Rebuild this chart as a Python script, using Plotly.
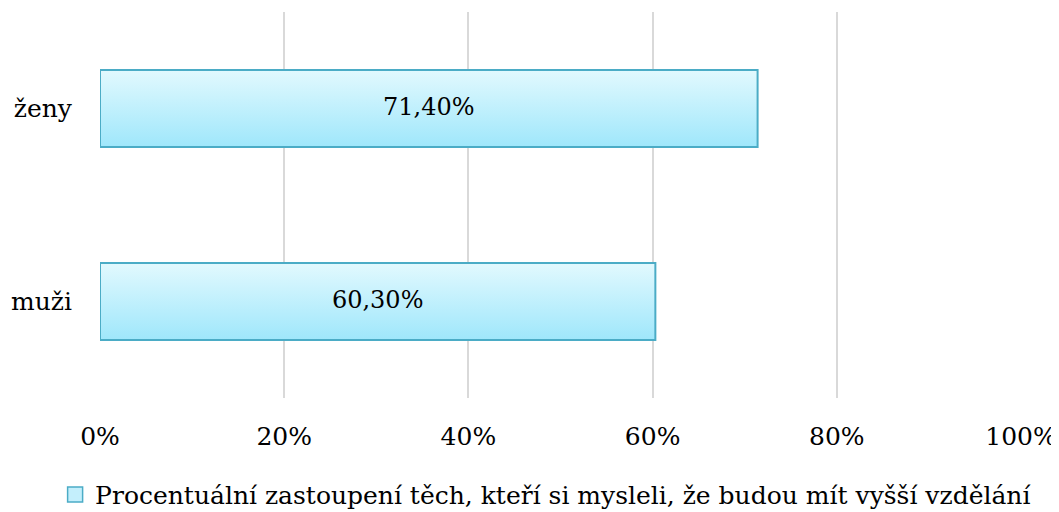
import plotly.graph_objects as go

categories = ["muži", "ženy"]
values = [60.3, 71.4]
value_labels = ["60,30%", "71,40%"]
series_name = "Procentuální zastoupení těch, kteří si mysleli, že budou mít vyšší vzdělání"
x_ticks = [0, 20, 40, 60, 80, 100]
x_tick_labels = ["0%", "20%", "40%", "60%", "80%", "100%"]

FONT = "DejaVu Serif"
half = 0.2

fig = go.Figure()
for i, (cat, v) in enumerate(zip(categories, values)):
    fig.add_trace(go.Scatter(
        x=[0, v, v, 0, 0],
        y=[i - half, i - half, i + half, i + half, i - half],
        mode="lines",
        fill="toself",
        fillgradient=dict(type="vertical",
                          colorscale=[[0, "#9fe7fb"], [1, "#e2f9fe"]]),
        line=dict(color="#4bacc6", width=2),
        showlegend=False,
        hoverinfo="skip",
    ))

fig.add_trace(go.Scatter(
    x=[v / 2 for v in values],
    y=list(range(len(categories))),
    mode="text",
    text=value_labels,
    textfont=dict(family=FONT, size=24, color="#000000"),
    showlegend=False,
    hoverinfo="skip",
))

fig.add_trace(go.Scatter(
    x=[None], y=[None], mode="markers",
    marker=dict(symbol="square", size=15, color="#c4effc",
                line=dict(color="#4bacc6", width=1.5)),
    name=series_name, showlegend=True,
))

fig.update_layout(
    width=1051, height=504,
    margin=dict(l=92, r=38, t=4, b=114),
    plot_bgcolor="white", paper_bgcolor="white",
    font=dict(family=FONT, size=24, color="#000000"),
    xaxis=dict(range=[0, 100], tickvals=x_ticks, ticktext=x_tick_labels,
               tickfont=dict(family=FONT, size=25),
               showgrid=True, gridcolor="#d9d9d9", gridwidth=2,
               zeroline=False, showline=False, ticks="",
               ticklabelstandoff=21, automargin=False),
    yaxis=dict(range=[-0.5, 1.5], tickvals=list(range(len(categories))),
               ticktext=categories, tickfont=dict(family=FONT, size=25),
               showgrid=False, zeroline=False,
               showline=False, ticks="", ticklabelstandoff=27,
               automargin=False),
    legend=dict(orientation="h", x=0.512, xanchor="center", xref="container",
                y=0.034, yanchor="middle", yref="container",
                font=dict(family=FONT, size=25), itemwidth=30),
    showlegend=True,
)

fig.write_html("out.html")
